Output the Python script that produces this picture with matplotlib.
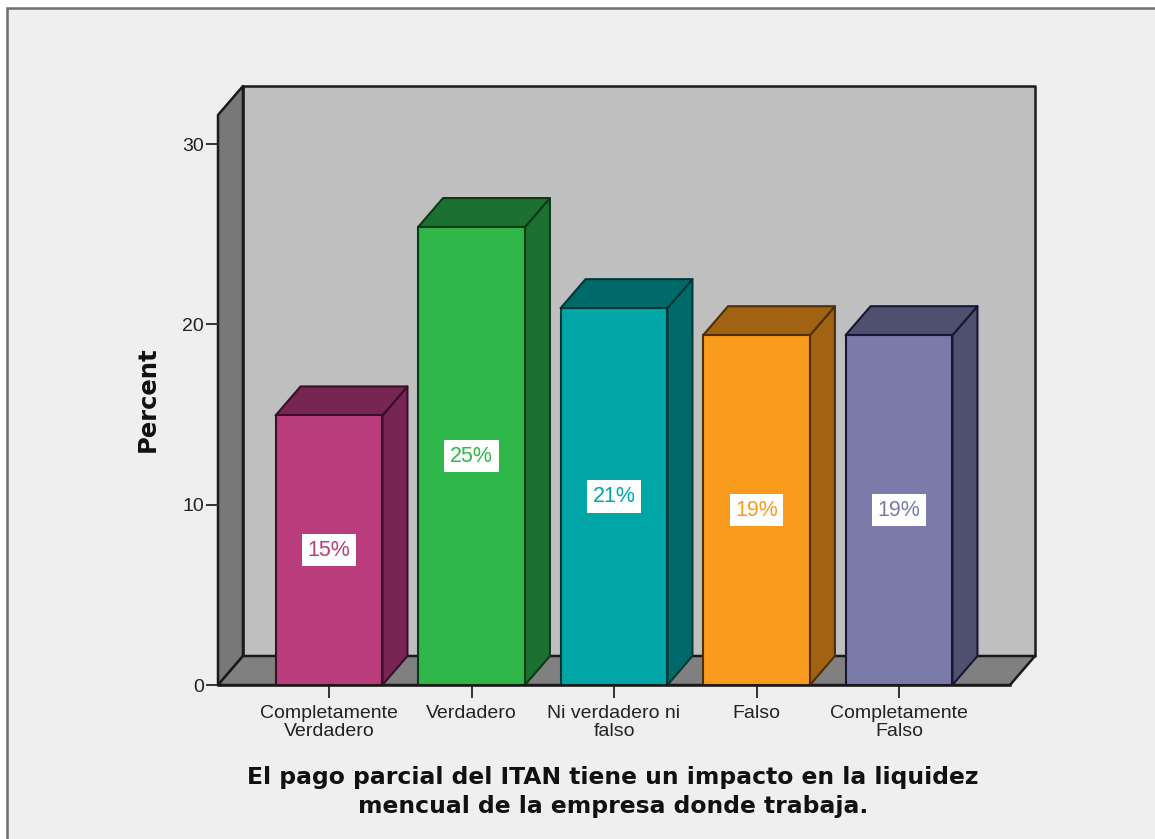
import matplotlib
matplotlib.use("Agg")
import matplotlib.pyplot as plt
from matplotlib.patches import Polygon, Rectangle

categories = ["Completamente\nVerdadero", "Verdadero", "Ni verdadero ni\nfalso", "Falso", "Completamente\nFalso"]
values = [14.95, 25.4, 20.9, 19.4, 19.4]
labels = ["15%", "25%", "21%", "19%", "19%"]
front = ["#b93d7c", "#2fb74a", "#00a5a5", "#f99b1c", "#7b7ba9"]
top = ["#772553", "#1c7030", "#006a6a", "#a16212", "#4f4f70"]
side = ["#772553", "#1c7030", "#006a6a", "#a16212", "#4f4f70"]
edge = ["#3a0f28", "#0c3a18", "#003838", "#4e3008", "#16163a"]
yticks = [0, 10, 20, 30]
xlabel = "El pago parcial del ITAN tiene un impacto en la liquidez\nmencual de la empresa donde trabaja."
ylabel = "Percent"

W, H = 1155, 839
fig = plt.figure(figsize=(W / 100, H / 100), dpi=100, facecolor="white")

# panel
panel = Rectangle((7 / W, -0.05), 1.05, 1.05 - 8 / H, transform=fig.transFigure,
                  facecolor="#efefef", edgecolor="#6e6e6e", linewidth=1.8, zorder=-5)
fig.add_artist(panel)

L, R, B, T = 218, 1010, 685, 115
ax = fig.add_axes([L / W, 1 - B / H, (R - L) / W, (B - T) / H], zorder=2)
px_x, px_y = 142.5, 18.03
ax.set_xlim((L - 329) / px_x, (R - 329) / px_x)
ax.set_ylim(0, (B - T) / px_y)
ax.patch.set_visible(False)
for s in ax.spines.values():
    s.set_visible(False)

dx, dy = 25 / px_x, 29 / px_y
x0, x1 = ax.get_xlim()
y1 = ax.get_ylim()[1]
ec = "#1a1a1a"
lw = 1.8
kw = dict(edgecolor=ec, linewidth=lw, joinstyle="round", clip_on=False)
ax.add_patch(Polygon([(x0 + dx, dy), (x1 + dx, dy), (x1 + dx, y1 + dy), (x0 + dx, y1 + dy)], facecolor="#bfbfbf", **kw))
ax.add_patch(Polygon([(x0, 0), (x0 + dx, dy), (x0 + dx, y1 + dy), (x0, y1)], facecolor="#787878", **kw))
ax.add_patch(Polygon([(x0, 0), (x1, 0), (x1 + dx, dy), (x0 + dx, dy)], facecolor="#808080", **kw))

w = 0.75
for i, v in enumerate(values):
    a, b = i - w / 2, i + w / 2
    k = dict(edgecolor=edge[i], linewidth=1.5, joinstyle="round", clip_on=False)
    ax.add_patch(Polygon([(b, 0), (b + dx, dy), (b + dx, v + dy), (b, v)], facecolor=side[i], **k))
    ax.add_patch(Polygon([(a, v), (b, v), (b + dx, v + dy), (a + dx, v + dy)], facecolor=top[i], **k))
ax.bar(range(len(values)), values, width=w, color=front, edgecolor=edge, linewidth=1.5, clip_on=False, zorder=3)

for i, v in enumerate(values):
    ax.text(i, v / 2, labels[i], ha="center", va="center", fontsize=15.5, color=front[i],
            family="Liberation Sans", zorder=5,
            bbox=dict(facecolor="white", edgecolor="none", pad=4.0))

ax.set_xticks(range(len(categories)))
ax.set_xticklabels(categories, family="Liberation Sans", fontsize=14, color="#222222", linespacing=1.08)
ax.set_yticks(yticks)
ax.set_yticklabels([str(t) for t in yticks], family="Liberation Sans", fontsize=14, color="#222222")
ax.tick_params(axis="x", length=9, width=1.4, color="#333333", pad=5.5)
ax.tick_params(axis="y", length=9, width=1.4, color="#333333", pad=1)
ax.plot([x0, x1], [0, 0], color=ec, lw=lw, clip_on=False, zorder=4)

fig.text(148 / W, 1 - 399 / H, ylabel, rotation=90, ha="center", va="center",
         family="DejaVu Sans", weight="bold", fontsize=17.5, color="#111111")
fig.text(613 / W, 1 - 792 / H, xlabel, ha="center", va="center", family="DejaVu Sans",
         weight="bold", fontsize=16.9, color="#111111", linespacing=1.3)

fig.savefig("out.png", dpi=100, facecolor="white")
